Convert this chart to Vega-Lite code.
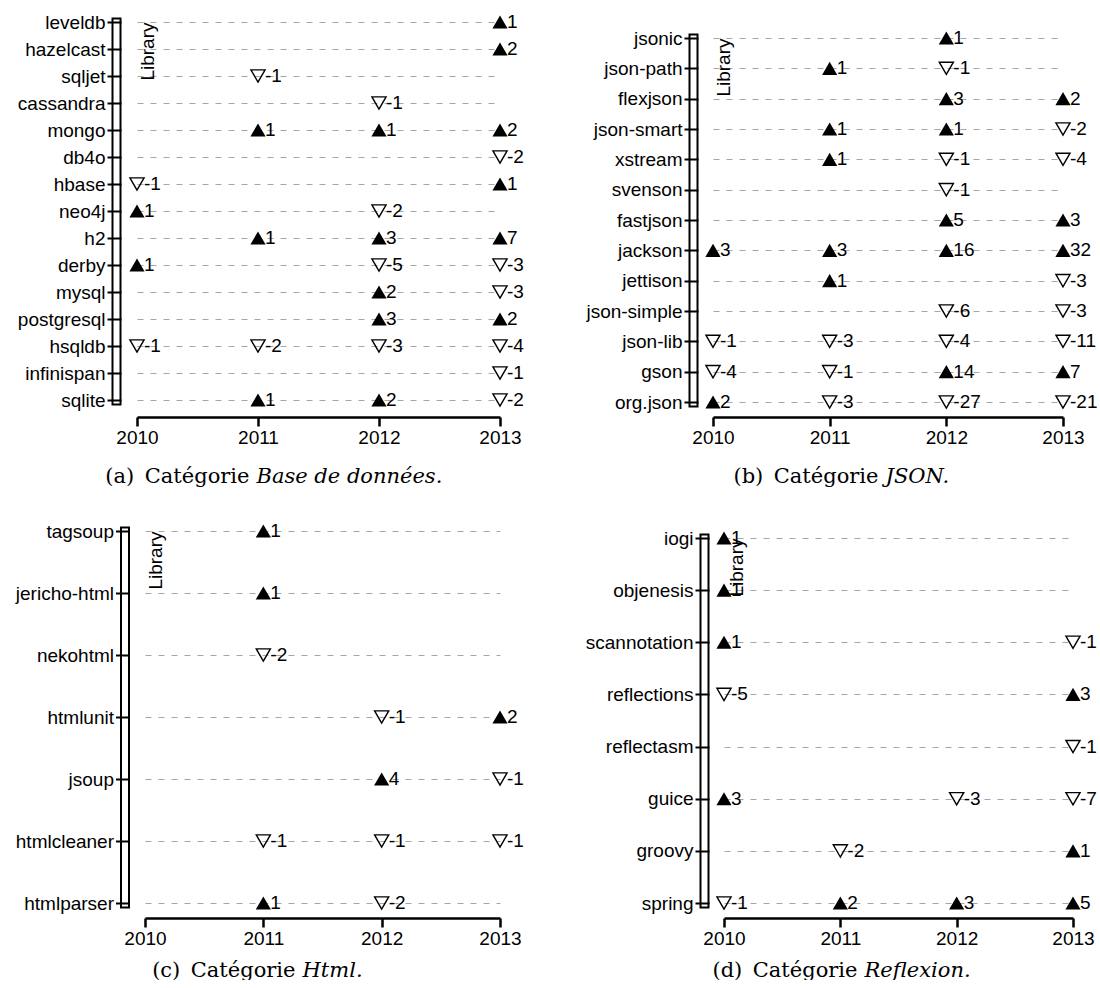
{
  "$schema": "https://vega.github.io/schema/vega-lite/v6.json",
  "padding": {"left": 15, "top": 13, "right": 0, "bottom": 0},
  "data": {
    "values": [
      {"c": "a", "lib": "leveldb", "year": 2013, "v": 1},
      {"c": "a", "lib": "hazelcast", "year": 2013, "v": 2},
      {"c": "a", "lib": "sqljet", "year": 2011, "v": -1},
      {"c": "a", "lib": "cassandra", "year": 2012, "v": -1},
      {"c": "a", "lib": "mongo", "year": 2011, "v": 1},
      {"c": "a", "lib": "mongo", "year": 2012, "v": 1},
      {"c": "a", "lib": "mongo", "year": 2013, "v": 2},
      {"c": "a", "lib": "db4o", "year": 2013, "v": -2},
      {"c": "a", "lib": "hbase", "year": 2010, "v": -1},
      {"c": "a", "lib": "hbase", "year": 2013, "v": 1},
      {"c": "a", "lib": "neo4j", "year": 2010, "v": 1},
      {"c": "a", "lib": "neo4j", "year": 2012, "v": -2},
      {"c": "a", "lib": "h2", "year": 2011, "v": 1},
      {"c": "a", "lib": "h2", "year": 2012, "v": 3},
      {"c": "a", "lib": "h2", "year": 2013, "v": 7},
      {"c": "a", "lib": "derby", "year": 2010, "v": 1},
      {"c": "a", "lib": "derby", "year": 2012, "v": -5},
      {"c": "a", "lib": "derby", "year": 2013, "v": -3},
      {"c": "a", "lib": "mysql", "year": 2012, "v": 2},
      {"c": "a", "lib": "mysql", "year": 2013, "v": -3},
      {"c": "a", "lib": "postgresql", "year": 2012, "v": 3},
      {"c": "a", "lib": "postgresql", "year": 2013, "v": 2},
      {"c": "a", "lib": "hsqldb", "year": 2010, "v": -1},
      {"c": "a", "lib": "hsqldb", "year": 2011, "v": -2},
      {"c": "a", "lib": "hsqldb", "year": 2012, "v": -3},
      {"c": "a", "lib": "hsqldb", "year": 2013, "v": -4},
      {"c": "a", "lib": "infinispan", "year": 2013, "v": -1},
      {"c": "a", "lib": "sqlite", "year": 2011, "v": 1},
      {"c": "a", "lib": "sqlite", "year": 2012, "v": 2},
      {"c": "a", "lib": "sqlite", "year": 2013, "v": -2},

      {"c": "b", "lib": "jsonic", "year": 2012, "v": 1},
      {"c": "b", "lib": "json-path", "year": 2011, "v": 1},
      {"c": "b", "lib": "json-path", "year": 2012, "v": -1},
      {"c": "b", "lib": "flexjson", "year": 2012, "v": 3},
      {"c": "b", "lib": "flexjson", "year": 2013, "v": 2},
      {"c": "b", "lib": "json-smart", "year": 2011, "v": 1},
      {"c": "b", "lib": "json-smart", "year": 2012, "v": 1},
      {"c": "b", "lib": "json-smart", "year": 2013, "v": -2},
      {"c": "b", "lib": "xstream", "year": 2011, "v": 1},
      {"c": "b", "lib": "xstream", "year": 2012, "v": -1},
      {"c": "b", "lib": "xstream", "year": 2013, "v": -4},
      {"c": "b", "lib": "svenson", "year": 2012, "v": -1},
      {"c": "b", "lib": "fastjson", "year": 2012, "v": 5},
      {"c": "b", "lib": "fastjson", "year": 2013, "v": 3},
      {"c": "b", "lib": "jackson", "year": 2010, "v": 3},
      {"c": "b", "lib": "jackson", "year": 2011, "v": 3},
      {"c": "b", "lib": "jackson", "year": 2012, "v": 16},
      {"c": "b", "lib": "jackson", "year": 2013, "v": 32},
      {"c": "b", "lib": "jettison", "year": 2011, "v": 1},
      {"c": "b", "lib": "jettison", "year": 2013, "v": -3},
      {"c": "b", "lib": "json-simple", "year": 2012, "v": -6},
      {"c": "b", "lib": "json-simple", "year": 2013, "v": -3},
      {"c": "b", "lib": "json-lib", "year": 2010, "v": -1},
      {"c": "b", "lib": "json-lib", "year": 2011, "v": -3},
      {"c": "b", "lib": "json-lib", "year": 2012, "v": -4},
      {"c": "b", "lib": "json-lib", "year": 2013, "v": -11},
      {"c": "b", "lib": "gson", "year": 2010, "v": -4},
      {"c": "b", "lib": "gson", "year": 2011, "v": -1},
      {"c": "b", "lib": "gson", "year": 2012, "v": 14},
      {"c": "b", "lib": "gson", "year": 2013, "v": 7},
      {"c": "b", "lib": "org.json", "year": 2010, "v": 2},
      {"c": "b", "lib": "org.json", "year": 2011, "v": -3},
      {"c": "b", "lib": "org.json", "year": 2012, "v": -27},
      {"c": "b", "lib": "org.json", "year": 2013, "v": -21},

      {"c": "c", "lib": "tagsoup", "year": 2011, "v": 1},
      {"c": "c", "lib": "jericho-html", "year": 2011, "v": 1},
      {"c": "c", "lib": "nekohtml", "year": 2011, "v": -2},
      {"c": "c", "lib": "htmlunit", "year": 2012, "v": -1},
      {"c": "c", "lib": "htmlunit", "year": 2013, "v": 2},
      {"c": "c", "lib": "jsoup", "year": 2012, "v": 4},
      {"c": "c", "lib": "jsoup", "year": 2013, "v": -1},
      {"c": "c", "lib": "htmlcleaner", "year": 2011, "v": -1},
      {"c": "c", "lib": "htmlcleaner", "year": 2012, "v": -1},
      {"c": "c", "lib": "htmlcleaner", "year": 2013, "v": -1},
      {"c": "c", "lib": "htmlparser", "year": 2011, "v": 1},
      {"c": "c", "lib": "htmlparser", "year": 2012, "v": -2},

      {"c": "d", "lib": "iogi", "year": 2010, "v": 1},
      {"c": "d", "lib": "objenesis", "year": 2010, "v": 1},
      {"c": "d", "lib": "scannotation", "year": 2010, "v": 1},
      {"c": "d", "lib": "scannotation", "year": 2013, "v": -1},
      {"c": "d", "lib": "reflections", "year": 2010, "v": -5},
      {"c": "d", "lib": "reflections", "year": 2013, "v": 3},
      {"c": "d", "lib": "reflectasm", "year": 2013, "v": -1},
      {"c": "d", "lib": "guice", "year": 2010, "v": 3},
      {"c": "d", "lib": "guice", "year": 2012, "v": -3},
      {"c": "d", "lib": "guice", "year": 2013, "v": -7},
      {"c": "d", "lib": "groovy", "year": 2011, "v": -2},
      {"c": "d", "lib": "groovy", "year": 2013, "v": 1},
      {"c": "d", "lib": "spring", "year": 2010, "v": -1},
      {"c": "d", "lib": "spring", "year": 2011, "v": 2},
      {"c": "d", "lib": "spring", "year": 2012, "v": 3},
      {"c": "d", "lib": "spring", "year": 2013, "v": 5}
    ]
  },
  "columns": 2,
  "bounds": "flush",
  "align": "each",
  "spacing": {"row": 129, "column": 213},
  "concat": [
    {
      "width": 363,
      "height": 380,
      "transform": [{"filter": "datum.c == 'a'"}],
      "resolve": {"axis": {"x": "independent", "y": "independent"}},
      "layer": [
        {
          "transform": [{"filter": "datum.v > 0"}],
          "mark": {"type": "point", "shape": "triangle-up", "filled": true, "color": "black", "opacity": 1, "size": 230},
          "encoding": {
            "x": {"field": "year", "type": "quantitative", "scale": {"domain": [2010, 2013], "nice": false, "zero": false},
              "axis": {"orient": "bottom", "offset": 15, "values": [2010, 2011, 2012, 2013], "format": "d", "labelFlush": false, "domainWidth": 2.5, "tickSize": 9, "tickWidth": 2.5, "labelPadding": 2,
                "title": "(a)\u2002Catégorie", "titleFont": "DejaVu Serif", "titleFontSize": 21, "titleAlign": "right", "titleBaseline": "alphabetic", "titleX": 112, "titleY": 65}},
            "y": {"field": "lib", "type": "nominal",
              "scale": {"type": "point", "padding": 0, "range": [0, 378], "domain": ["leveldb", "hazelcast", "sqljet", "cassandra", "mongo", "db4o", "hbase", "neo4j", "h2", "derby", "mysql", "postgresql", "hsqldb", "infinispan", "sqlite"]},
              "axis": {"orient": "left", "offset": 21, "domainWidth": 10, "domainCap": "square", "ticks": false, "labels": false, "grid": true, "gridDash": [6, 7], "gridColor": "#a6a6a6",
                "title": "Library", "titleAngle": 270, "titleAlign": "right", "titleBaseline": "top", "titleX": 22, "titleY": 0}}
          }
        },
        {
          "transform": [{"filter": "datum.v < 0"}],
          "mark": {"type": "point", "shape": "triangle-down", "filled": false, "stroke": "black", "strokeWidth": 1.4, "opacity": 1, "size": 200},
          "encoding": {
            "x": {"field": "year", "type": "quantitative", "scale": {"domain": [2010, 2013], "nice": false, "zero": false},
              "axis": {"orient": "bottom", "offset": 15, "domain": false, "ticks": false, "labels": false,
                "title": "Base de données.", "titleFont": "DejaVu Serif", "titleFontSize": 21, "titleFontStyle": "italic", "titleAlign": "left", "titleBaseline": "alphabetic", "titleX": 119, "titleY": 65}},
            "y": {"field": "lib", "type": "nominal",
              "scale": {"type": "point", "padding": 0, "range": [0, 378], "domain": ["leveldb", "hazelcast", "sqljet", "cassandra", "mongo", "db4o", "hbase", "neo4j", "h2", "derby", "mysql", "postgresql", "hsqldb", "infinispan", "sqlite"]},
              "axis": {"orient": "left", "offset": 21, "domainWidth": 6, "domainColor": "white", "domainCap": "square", "ticks": false, "labels": false, "title": null}}
          }
        },
        {
          "mark": {"type": "text", "align": "left", "baseline": "middle", "dx": 7, "fontSize": 19, "font": "Liberation Sans", "color": "black"},
          "encoding": {
            "x": {"field": "year", "type": "quantitative", "scale": {"domain": [2010, 2013], "nice": false, "zero": false}, "axis": null},
            "y": {"field": "lib", "type": "nominal",
              "scale": {"type": "point", "padding": 0, "range": [0, 378], "domain": ["leveldb", "hazelcast", "sqljet", "cassandra", "mongo", "db4o", "hbase", "neo4j", "h2", "derby", "mysql", "postgresql", "hsqldb", "infinispan", "sqlite"]},
              "axis": {"orient": "left", "offset": 16, "domain": false, "tickSize": 14, "tickWidth": 2, "labelPadding": 2, "title": null}},
            "text": {"field": "v", "type": "nominal"}
          }
        }
      ]
    },
    {
      "width": 350,
      "height": 380,
      "transform": [{"filter": "datum.c == 'b'"}],
      "resolve": {"axis": {"x": "independent", "y": "independent"}},
      "layer": [
        {
          "transform": [{"filter": "datum.v > 0"}],
          "mark": {"type": "point", "shape": "triangle-up", "filled": true, "color": "black", "opacity": 1, "size": 230},
          "encoding": {
            "x": {"field": "year", "type": "quantitative", "scale": {"domain": [2010, 2013], "nice": false, "zero": false},
              "axis": {"orient": "bottom", "offset": 15, "values": [2010, 2011, 2012, 2013], "format": "d", "labelFlush": false, "domainWidth": 2.5, "tickSize": 9, "tickWidth": 2.5, "labelPadding": 2,
                "title": "(b)\u2002Catégorie", "titleFont": "DejaVu Serif", "titleFontSize": 21, "titleAlign": "right", "titleBaseline": "alphabetic", "titleX": 165, "titleY": 65}},
            "y": {"field": "lib", "type": "nominal",
              "scale": {"type": "point", "padding": 0, "range": [16, 380], "domain": ["jsonic", "json-path", "flexjson", "json-smart", "xstream", "svenson", "fastjson", "jackson", "jettison", "json-simple", "json-lib", "gson", "org.json"]},
              "axis": {"orient": "left", "offset": 20, "domainWidth": 10, "domainCap": "square", "ticks": false, "labels": false, "grid": true, "gridDash": [6, 7], "gridColor": "#a6a6a6",
                "title": "Library", "titleAngle": 270, "titleAlign": "right", "titleBaseline": "top", "titleX": 21, "titleY": 16}}
          }
        },
        {
          "transform": [{"filter": "datum.v < 0"}],
          "mark": {"type": "point", "shape": "triangle-down", "filled": false, "stroke": "black", "strokeWidth": 1.4, "opacity": 1, "size": 200},
          "encoding": {
            "x": {"field": "year", "type": "quantitative", "scale": {"domain": [2010, 2013], "nice": false, "zero": false},
              "axis": {"orient": "bottom", "offset": 15, "domain": false, "ticks": false, "labels": false,
                "title": "JSON.", "titleFont": "DejaVu Serif", "titleFontSize": 21, "titleFontStyle": "italic", "titleAlign": "left", "titleBaseline": "alphabetic", "titleX": 172, "titleY": 65}},
            "y": {"field": "lib", "type": "nominal",
              "scale": {"type": "point", "padding": 0, "range": [16, 380], "domain": ["jsonic", "json-path", "flexjson", "json-smart", "xstream", "svenson", "fastjson", "jackson", "jettison", "json-simple", "json-lib", "gson", "org.json"]},
              "axis": {"orient": "left", "offset": 20, "domainWidth": 6, "domainColor": "white", "domainCap": "square", "ticks": false, "labels": false, "title": null}}
          }
        },
        {
          "mark": {"type": "text", "align": "left", "baseline": "middle", "dx": 7, "fontSize": 19, "font": "Liberation Sans", "color": "black"},
          "encoding": {
            "x": {"field": "year", "type": "quantitative", "scale": {"domain": [2010, 2013], "nice": false, "zero": false}, "axis": null},
            "y": {"field": "lib", "type": "nominal",
              "scale": {"type": "point", "padding": 0, "range": [16, 380], "domain": ["jsonic", "json-path", "flexjson", "json-smart", "xstream", "svenson", "fastjson", "jackson", "jettison", "json-simple", "json-lib", "gson", "org.json"]},
              "axis": {"orient": "left", "offset": 15, "domain": false, "tickSize": 14, "tickWidth": 2, "labelPadding": 2, "title": null}},
            "text": {"field": "v", "type": "nominal"}
          }
        }
      ]
    },
    {
      "width": 363,
      "height": 372,
      "transform": [{"filter": "datum.c == 'c'"}],
      "resolve": {"axis": {"x": "independent", "y": "independent"}},
      "layer": [
        {
          "transform": [{"filter": "datum.v > 0"}],
          "mark": {"type": "point", "shape": "triangle-up", "filled": true, "color": "black", "opacity": 1, "size": 230},
          "encoding": {
            "x": {"field": "year", "type": "quantitative", "scale": {"domain": [2010, 2013], "nice": false, "zero": false, "range": [8, 363]},
              "axis": {"orient": "bottom", "offset": 15, "values": [2010, 2011, 2012, 2013], "format": "d", "labelFlush": false, "domainWidth": 2.5, "tickSize": 9, "tickWidth": 2.5, "labelPadding": 2,
                "title": "(c)\u2002Catégorie", "titleFont": "DejaVu Serif", "titleFontSize": 21, "titleAlign": "right", "titleBaseline": "alphabetic", "titleX": 158, "titleY": 58}},
            "y": {"field": "lib", "type": "nominal",
              "scale": {"type": "point", "padding": 0, "range": [0, 372], "domain": ["tagsoup", "jericho-html", "nekohtml", "htmlunit", "jsoup", "htmlcleaner", "htmlparser"]},
              "axis": {"orient": "left", "offset": 12.5, "domainWidth": 10, "domainCap": "square", "ticks": false, "labels": false, "grid": true, "gridDash": [6, 7], "gridColor": "#a6a6a6",
                "title": "Library", "titleAngle": 270, "titleAlign": "right", "titleBaseline": "top", "titleX": 21.5, "titleY": 0}}
          }
        },
        {
          "transform": [{"filter": "datum.v < 0"}],
          "mark": {"type": "point", "shape": "triangle-down", "filled": false, "stroke": "black", "strokeWidth": 1.4, "opacity": 1, "size": 200},
          "encoding": {
            "x": {"field": "year", "type": "quantitative", "scale": {"domain": [2010, 2013], "nice": false, "zero": false, "range": [8, 363]},
              "axis": {"orient": "bottom", "offset": 15, "domain": false, "ticks": false, "labels": false,
                "title": "Html.", "titleFont": "DejaVu Serif", "titleFontSize": 21, "titleFontStyle": "italic", "titleAlign": "left", "titleBaseline": "alphabetic", "titleX": 165, "titleY": 58}},
            "y": {"field": "lib", "type": "nominal",
              "scale": {"type": "point", "padding": 0, "range": [0, 372], "domain": ["tagsoup", "jericho-html", "nekohtml", "htmlunit", "jsoup", "htmlcleaner", "htmlparser"]},
              "axis": {"orient": "left", "offset": 12.5, "domainWidth": 6, "domainColor": "white", "domainCap": "square", "ticks": false, "labels": false, "title": null}}
          }
        },
        {
          "mark": {"type": "text", "align": "left", "baseline": "middle", "dx": 7, "fontSize": 19, "font": "Liberation Sans", "color": "black"},
          "encoding": {
            "x": {"field": "year", "type": "quantitative", "scale": {"domain": [2010, 2013], "nice": false, "zero": false, "range": [8, 363]}, "axis": null},
            "y": {"field": "lib", "type": "nominal",
              "scale": {"type": "point", "padding": 0, "range": [0, 372], "domain": ["tagsoup", "jericho-html", "nekohtml", "htmlunit", "jsoup", "htmlcleaner", "htmlparser"]},
              "axis": {"orient": "left", "offset": 7.5, "domain": false, "tickSize": 14, "tickWidth": 2, "labelPadding": 2, "title": null}},
            "text": {"field": "v", "type": "nominal"}
          }
        }
      ]
    },
    {
      "width": 360,
      "height": 372,
      "transform": [{"filter": "datum.c == 'd'"}],
      "resolve": {"axis": {"x": "independent", "y": "independent"}},
      "layer": [
        {
          "transform": [{"filter": "datum.v > 0"}],
          "mark": {"type": "point", "shape": "triangle-up", "filled": true, "color": "black", "opacity": 1, "size": 230},
          "encoding": {
            "x": {"field": "year", "type": "quantitative", "scale": {"domain": [2010, 2013], "nice": false, "zero": false, "range": [11, 360]},
              "axis": {"orient": "bottom", "offset": 15, "values": [2010, 2011, 2012, 2013], "format": "d", "labelFlush": false, "domainWidth": 2.5, "tickSize": 9, "tickWidth": 2.5, "labelPadding": 2,
                "title": "(d)\u2002Catégorie", "titleFont": "DejaVu Serif", "titleFontSize": 21, "titleAlign": "right", "titleBaseline": "alphabetic", "titleX": 144, "titleY": 58}},
            "y": {"field": "lib", "type": "nominal",
              "scale": {"type": "point", "padding": 0, "range": [7, 372], "domain": ["iogi", "objenesis", "scannotation", "reflections", "reflectasm", "guice", "groovy", "spring"]},
              "axis": {"orient": "left", "offset": 9, "domainWidth": 10, "domainCap": "square", "ticks": false, "labels": false, "grid": true, "gridDash": [6, 7], "gridColor": "#a6a6a6",
                "title": "Library", "titleAngle": 270, "titleAlign": "right", "titleBaseline": "top", "titleX": 23, "titleY": 7}}
          }
        },
        {
          "transform": [{"filter": "datum.v < 0"}],
          "mark": {"type": "point", "shape": "triangle-down", "filled": false, "stroke": "black", "strokeWidth": 1.4, "opacity": 1, "size": 200},
          "encoding": {
            "x": {"field": "year", "type": "quantitative", "scale": {"domain": [2010, 2013], "nice": false, "zero": false, "range": [11, 360]},
              "axis": {"orient": "bottom", "offset": 15, "domain": false, "ticks": false, "labels": false,
                "title": "Reflexion.", "titleFont": "DejaVu Serif", "titleFontSize": 21, "titleFontStyle": "italic", "titleAlign": "left", "titleBaseline": "alphabetic", "titleX": 151, "titleY": 58}},
            "y": {"field": "lib", "type": "nominal",
              "scale": {"type": "point", "padding": 0, "range": [7, 372], "domain": ["iogi", "objenesis", "scannotation", "reflections", "reflectasm", "guice", "groovy", "spring"]},
              "axis": {"orient": "left", "offset": 9, "domainWidth": 6, "domainColor": "white", "domainCap": "square", "ticks": false, "labels": false, "title": null}}
          }
        },
        {
          "mark": {"type": "text", "align": "left", "baseline": "middle", "dx": 7, "fontSize": 19, "font": "Liberation Sans", "color": "black"},
          "encoding": {
            "x": {"field": "year", "type": "quantitative", "scale": {"domain": [2010, 2013], "nice": false, "zero": false, "range": [11, 360]}, "axis": null},
            "y": {"field": "lib", "type": "nominal",
              "scale": {"type": "point", "padding": 0, "range": [7, 372], "domain": ["iogi", "objenesis", "scannotation", "reflections", "reflectasm", "guice", "groovy", "spring"]},
              "axis": {"orient": "left", "offset": 4, "domain": false, "tickSize": 14, "tickWidth": 2, "labelPadding": 2, "title": null}},
            "text": {"field": "v", "type": "nominal"}
          }
        }
      ]
    }
  ],
  "config": {
    "view": {"stroke": null},
    "axis": {
      "grid": false,
      "domainColor": "black",
      "tickColor": "black",
      "labelColor": "black",
      "labelFont": "Liberation Sans",
      "labelFontSize": 19,
      "titleColor": "black",
      "titleFont": "Liberation Sans",
      "titleFontSize": 19,
      "titleFontWeight": "normal"
    }
  }
}
